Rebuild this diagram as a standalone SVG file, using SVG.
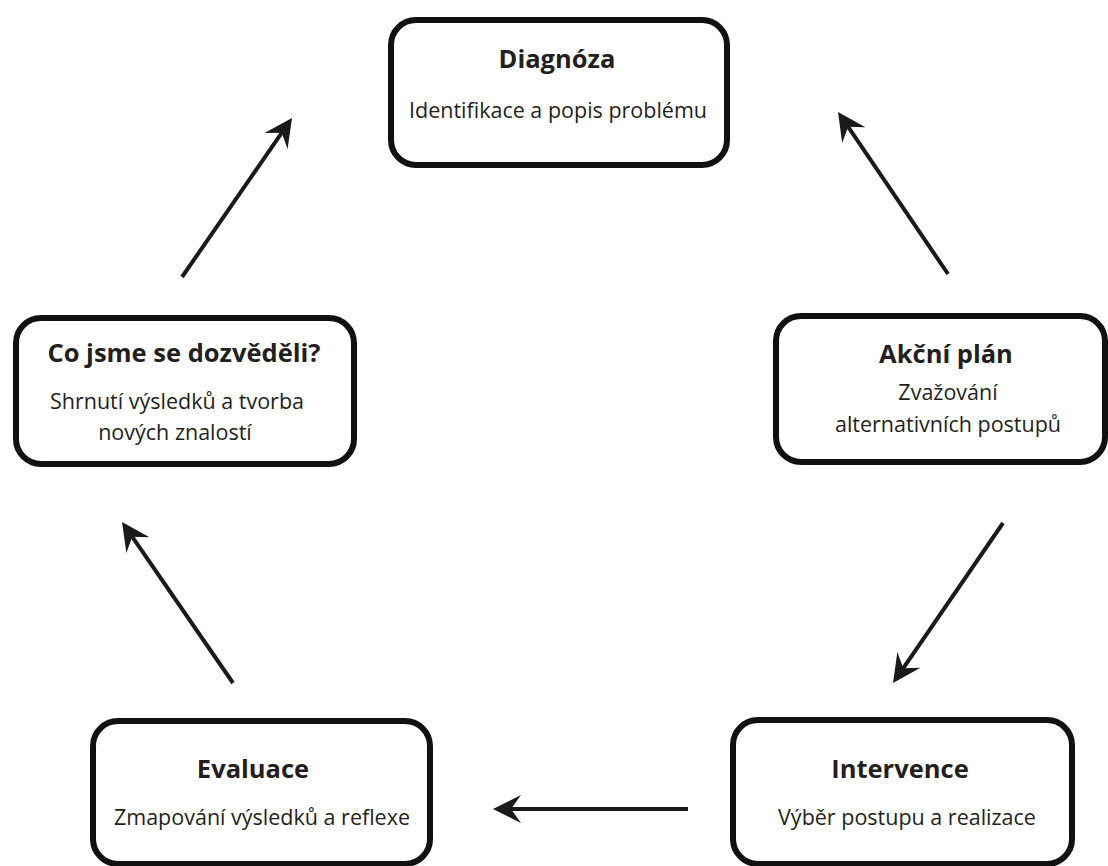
<svg xmlns="http://www.w3.org/2000/svg" width="1108" height="866" viewBox="0 0 1108 866">
<style>
.box{fill:#fff;stroke:#111;stroke-width:6}
.t{font-family:"Open Sans","Noto Sans","Liberation Sans",sans-serif;font-weight:700;font-size:25.5px;fill:#231f20;text-anchor:middle}
.s{font-family:"Open Sans","Noto Sans","Liberation Sans",sans-serif;font-size:21.5px;fill:#231f20;text-anchor:middle}
.c{stroke:#1a1a1a;stroke-width:4;fill:none;marker-end:url(#ah)}
</style>
<defs>
<marker id="ah" viewBox="0 0 28 28" refX="12" refY="14" markerWidth="28" markerHeight="28" markerUnits="userSpaceOnUse" orient="auto">
<path d="M28,14 L0,0 L10,14 L0,28 Z" fill="#1a1a1a"/>
</marker>
</defs>
<rect width="1108" height="866" fill="#fff"/>
<g id="connectors">
<line class="c" x1="182" y1="277" x2="282.9" y2="131.2"/>
<line class="c" x1="948" y1="274" x2="847" y2="125.2"/>
<line class="c" x1="1003" y1="523" x2="902.1" y2="669.8"/>
<line class="c" x1="688" y1="809" x2="509" y2="809"/>
<line class="c" x1="233" y1="683" x2="131.1" y2="535.2"/>
</g>
<g id="diagnoza">
<rect class="box" x="391" y="20" width="336" height="145" rx="25"/>
<text class="t" x="557" y="68">Diagnóza</text>
<text class="s" x="558" y="118">Identifikace a popis problému</text>
</g>
<g id="akcni-plan">
<rect class="box" x="776" y="316" width="329" height="146" rx="25"/>
<text class="t" x="946" y="363">Akční plán</text>
<text class="s" x="948" y="400">Zvažování</text>
<text class="s" x="948" y="432">alternativních postupů</text>
</g>
<g id="intervence">
<rect class="box" x="733" y="720" width="339" height="144" rx="25"/>
<text class="t" x="900" y="778">Intervence</text>
<text class="s" x="907" y="825">Výběr postupu a realizace</text>
</g>
<g id="evaluace">
<rect class="box" x="93" y="721" width="337" height="143" rx="25"/>
<text class="t" x="253" y="778">Evaluace</text>
<text class="s" x="262" y="825">Zmapování výsledků a reflexe</text>
</g>
<g id="co-jsme">
<rect class="box" x="16" y="318" width="338" height="146" rx="25"/>
<text class="t" x="184" y="362">Co jsme se dozvěděli?</text>
<text class="s" x="177" y="409">Shrnutí výsledků a tvorba</text>
<text class="s" x="175" y="440">nových znalostí</text>
</g>
</svg>
